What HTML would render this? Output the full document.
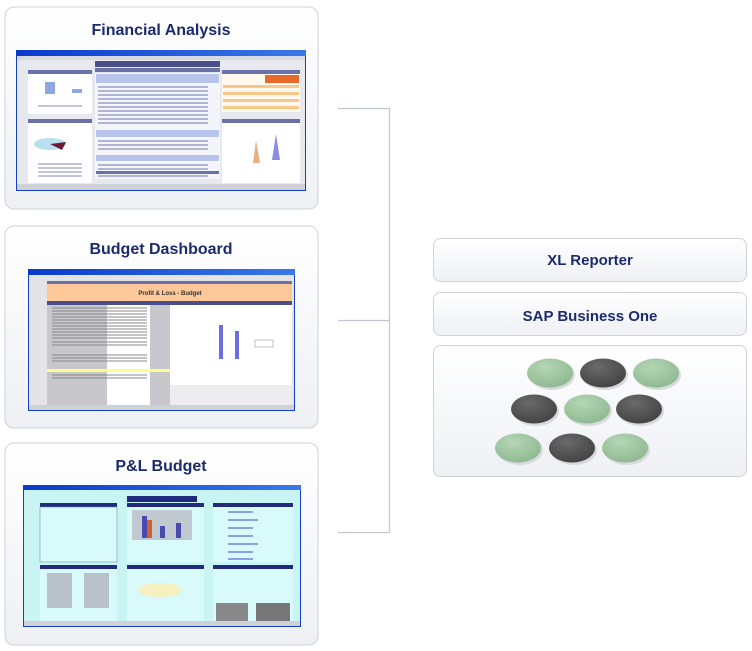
<!DOCTYPE html>
<html><head><meta charset="utf-8"><style>
html,body{margin:0;padding:0;background:#fff;width:752px;height:651px;overflow:hidden}
svg{display:block}
text{font-family:"Liberation Sans",sans-serif}
</style></head><body>
<svg width="752" height="651" viewBox="0 0 752 651" xmlns="http://www.w3.org/2000/svg">
<defs>
<linearGradient id="pg" x1="0" y1="0" x2="0" y2="1"><stop offset="0" stop-color="#ffffff"/><stop offset="1" stop-color="#eef0f4"/></linearGradient>
<linearGradient id="bar" x1="0" y1="0" x2="1" y2="0"><stop offset="0" stop-color="#0a3acb"/><stop offset="1" stop-color="#3a78e8"/></linearGradient>
<radialGradient id="gr" cx="0.4" cy="0.3" r="0.7"><stop offset="0" stop-color="#b4d6b4"/><stop offset="1" stop-color="#90b993"/></radialGradient>
<radialGradient id="dk" cx="0.4" cy="0.3" r="0.7"><stop offset="0" stop-color="#6a6a6a"/><stop offset="1" stop-color="#444"/></radialGradient>
</defs>
<!-- connectors -->
<g stroke="#c4c7cf" stroke-width="1.2" fill="none">
<path d="M338 108.5 H389.5 V532.5 H338"/>
<path d="M338 320.5 H389.5"/>
</g>
<!-- left panels -->
<rect x="5" y="7" width="313" height="202" rx="9" fill="url(#pg)" stroke="#cfd2d9"/>
<rect x="5" y="226" width="313" height="202" rx="9" fill="url(#pg)" stroke="#cfd2d9"/>
<rect x="5" y="443" width="313" height="202" rx="9" fill="url(#pg)" stroke="#cfd2d9"/>
<g fill="#1c2b6e" font-weight="bold" font-size="16" text-anchor="middle">
<text x="161" y="35">Financial Analysis</text>
<text x="161" y="254">Budget Dashboard</text>
<text x="161" y="471">P&amp;L Budget</text>
</g>
<!-- screenshot 1 -->
<rect x="16" y="50" width="290" height="141" fill="#1440c8"/>
<rect x="16" y="50" width="290" height="6" fill="url(#bar)"/>
<rect x="17" y="56" width="288" height="128" fill="#e8e8ef"/>
<rect x="17" y="56" width="288" height="4" fill="#d8d8e0"/>
<rect x="95" y="61" width="125" height="6" fill="#4a4f8c"/>
<rect x="95" y="68" width="125" height="4" fill="#6a70a8"/>
<rect x="95" y="73" width="125" height="106" fill="#f4f4fb"/>
<g fill="#b8c4ec"><rect x="96" y="74" width="123" height="9"/><rect x="96" y="130" width="123" height="7"/><rect x="96" y="155" width="123" height="6"/></g>
<g stroke="#9aa0c8" stroke-width="1.4"><path d="M98 87h110M98 91h110M98 95h110M98 99h110M98 103h110M98 107h110M98 111h110M98 115h110M98 119h110M98 123h110M98 141h110M98 145h110M98 149h110M98 165h110M98 169h110M98 176h110"/></g>
<rect x="96" y="171" width="123" height="3" fill="#6a70a8"/>
<rect x="28" y="70" width="64" height="4" fill="#6a70a8"/>
<rect x="28" y="74" width="64" height="40" fill="#fff"/>
<rect x="45" y="82" width="10" height="12" fill="#8fa8e0"/><rect x="72" y="89" width="10" height="4" fill="#8fa8e0"/>
<rect x="28" y="119" width="64" height="4" fill="#6a70a8"/>
<rect x="28" y="123" width="64" height="60" fill="#fff"/>
<ellipse cx="50" cy="144" rx="16" ry="6" fill="#b8e0f0"/><path d="M50 144 L66 142 L62 150 Z" fill="#6b1a3a"/>
<g stroke="#9aa0c8" stroke-width="1.2"><path d="M38 164h44M38 168h44M38 172h44M38 176h44M38 106h44"/></g>
<rect x="222" y="70" width="78" height="4" fill="#6a70a8"/>
<rect x="222" y="74" width="78" height="38" fill="#fff8ee"/>
<rect x="265" y="75" width="34" height="8" fill="#e86a2a"/>
<g fill="#f8c88a"><rect x="223" y="85" width="76" height="3"/><rect x="223" y="92" width="76" height="3"/><rect x="223" y="99" width="76" height="3"/><rect x="223" y="106" width="76" height="3"/></g>
<rect x="222" y="119" width="78" height="4" fill="#6a70a8"/>
<rect x="222" y="123" width="78" height="60" fill="#fff"/>
<path d="M253 163 L256 140 L260 163Z" fill="#e8b080"/><path d="M272 160 L276 134 L280 160Z" fill="#8a8ee0"/>
<rect x="17" y="184" width="288" height="6" fill="#d0d0d8"/>
<!-- screenshot 2 -->
<rect x="28" y="269" width="267" height="142" fill="#1440c8"/>
<rect x="28" y="269" width="267" height="6" fill="url(#bar)"/>
<rect x="29" y="275" width="265" height="131" fill="#e4e4e8"/>
<rect x="47" y="281" width="245" height="3" fill="#6a70a8"/>
<rect x="47" y="284" width="245" height="17" fill="#fcc89a"/>
<text x="170" y="295" font-size="6" font-weight="bold" fill="#333" text-anchor="middle">Profit &amp; Loss - Budget</text>
<rect x="47" y="301" width="245" height="4" fill="#4a4f8c"/>
<rect x="47" y="305" width="60" height="100" fill="#c8c8cc"/>
<rect x="107" y="305" width="43" height="100" fill="#fff"/>
<rect x="150" y="305" width="20" height="100" fill="#c8c8cc"/>
<g stroke="#888" stroke-width="1"><path d="M52 308h95M52 311h95M52 314h95M52 317h95M52 320h95M52 323h95M52 326h95M52 329h95M52 332h95M52 335h95M52 338h95M52 342h95M52 345h95M52 355h95M52 358h95M52 361h95M52 375h95M52 378h95"/></g>
<rect x="47" y="369" width="123" height="3" fill="#ffff88"/>
<rect x="170" y="305" width="122" height="100" fill="#fff"/>
<rect x="219" y="325" width="4" height="34" fill="#6a6ee0"/><rect x="235" y="331" width="4" height="28" fill="#6a6ee0"/>
<rect x="255" y="340" width="18" height="7" fill="#fff" stroke="#888" stroke-width=".5"/>
<rect x="170" y="385" width="122" height="20" fill="#ededf0"/>
<rect x="29" y="405" width="265" height="5" fill="#d0d0d8"/>
<!-- screenshot 3 -->
<rect x="23" y="485" width="278" height="142" fill="#1440c8"/>
<rect x="23" y="485" width="278" height="5" fill="url(#bar)"/>
<rect x="24" y="490" width="276" height="132" fill="#c8f4f4"/>
<g fill="#222a80">
<rect x="40" y="503" width="77" height="4"/><rect x="127" y="496" width="70" height="6"/><rect x="127" y="503" width="77" height="4"/><rect x="213" y="503" width="80" height="4"/>
<rect x="40" y="565" width="77" height="4"/><rect x="127" y="565" width="77" height="4"/><rect x="213" y="565" width="80" height="4"/>
</g>
<rect x="40" y="507" width="77" height="55" fill="#d8fafa" stroke="#5a8aa0" stroke-width=".5"/>
<rect x="127" y="507" width="77" height="55" fill="#d8fafa"/>
<rect x="132" y="510" width="60" height="30" fill="#c0c8d0"/>
<rect x="142" y="516" width="5" height="22" fill="#4a4ab0"/><rect x="147" y="520" width="5" height="18" fill="#d06030"/><rect x="160" y="526" width="5" height="12" fill="#4a4ab0"/><rect x="176" y="523" width="5" height="15" fill="#4a4ab0"/>
<rect x="213" y="507" width="80" height="55" fill="#d8fafa"/>
<g stroke="#3a4ad0" stroke-width="1"><path d="M228 512h25M228 520h30M228 528h25M228 536h25M228 544h30M228 552h25M228 559h25"/></g>
<rect x="40" y="569" width="77" height="52" fill="#d8fafa"/>
<rect x="47" y="573" width="25" height="35" fill="#b8c0c8"/><rect x="84" y="573" width="25" height="35" fill="#b8c0c8"/>
<rect x="127" y="569" width="77" height="52" fill="#d8fafa"/>
<ellipse cx="160" cy="590" rx="22" ry="7" fill="#f4f0c0"/>
<rect x="213" y="569" width="80" height="52" fill="#d8fafa"/>
<rect x="216" y="603" width="32" height="18" fill="#888"/><rect x="256" y="603" width="34" height="18" fill="#777"/>
<rect x="24" y="621" width="276" height="5" fill="#d0d0d8"/>
<!-- right boxes -->
<rect x="433.5" y="238.5" width="313" height="43" rx="7" fill="url(#pg)" stroke="#cfd2d9"/>
<rect x="433.5" y="292.5" width="313" height="43" rx="7" fill="url(#pg)" stroke="#cfd2d9"/>
<rect x="433.5" y="345.5" width="313" height="131" rx="7" fill="url(#pg)" stroke="#cfd2d9"/>
<g fill="#1c2b6e" font-weight="bold" font-size="15" text-anchor="middle">
<text x="590" y="265">XL Reporter</text>
<text x="590" y="321">SAP Business One</text>
</g>
<g>
<g fill="#d8dade">
<ellipse cx="552" cy="375" rx="23" ry="15"/><ellipse cx="605" cy="375" rx="23" ry="15"/><ellipse cx="658" cy="375" rx="23" ry="15"/>
<ellipse cx="536" cy="411" rx="23" ry="15"/><ellipse cx="589" cy="411" rx="23" ry="15"/><ellipse cx="641" cy="411" rx="23" ry="15"/>
<ellipse cx="520" cy="450" rx="23" ry="15"/><ellipse cx="574" cy="450" rx="23" ry="15"/><ellipse cx="627" cy="450" rx="23" ry="15"/>
</g>
<ellipse cx="550" cy="373" rx="23" ry="14.5" fill="url(#gr)"/>
<ellipse cx="603" cy="373" rx="23" ry="14.5" fill="url(#dk)"/>
<ellipse cx="656" cy="373" rx="23" ry="14.5" fill="url(#gr)"/>
<ellipse cx="534" cy="409" rx="23" ry="14.5" fill="url(#dk)"/>
<ellipse cx="587" cy="409" rx="23" ry="14.5" fill="url(#gr)"/>
<ellipse cx="639" cy="409" rx="23" ry="14.5" fill="url(#dk)"/>
<ellipse cx="518" cy="448" rx="23" ry="14.5" fill="url(#gr)"/>
<ellipse cx="572" cy="448" rx="23" ry="14.5" fill="url(#dk)"/>
<ellipse cx="625" cy="448" rx="23" ry="14.5" fill="url(#gr)"/>
</g>
</svg>
</body></html>
